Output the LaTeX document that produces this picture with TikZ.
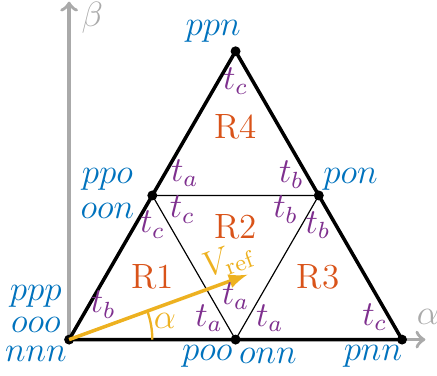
\documentclass[tikz,border=0pt]{standalone}
\usepackage{amsmath,amssymb}
\usepackage{tikz}
\usetikzlibrary{arrows,positioning,calc}
\definecolor{mblue}{RGB}{0,114,189}
\definecolor{mpurple}{RGB}{126,47,142}
\definecolor{morange}{RGB}{217,83,25}
\definecolor{myellow}{RGB}{237,177,32}
\definecolor{axgray}{RGB}{170,170,170}

\begin{document}
\begin{tikzpicture}[font=\large,
	state/.style={text=mblue, inner sep=0pt},
	tlab/.style={text=mpurple, inner sep=0pt},
	region/.style={text=morange, inner sep=0pt}]
	\useasboundingbox (-0.83,-0.43) rectangle (4.42,4.08);
	% axes
	\coordinate (xend) at (4.28,0);
	\coordinate (yend) at (0,4.06);
	\draw[very thick, axgray, -to] (0,0) -- (xend);
	\draw[very thick, axgray, -to] (0,0) -- (yend);
	\node[text=axgray] (alab) at (4.31,0.27) {$\alpha$};
	\node[text=axgray] (blab) at (0.28,3.87) {$\beta$};
	% vectors
	\coordinate (nnn) at (0,0);
	\coordinate (poo) at (2,0);
	\coordinate (pnn) at (4,0);
	\coordinate (ppo) at (1,1.732);
	\coordinate (pon) at (3,1.732);
	\coordinate (ppn) at (2,3.464);
	\draw[thin] (ppo) -- (pon) -- (poo) -- cycle;
	\draw[very thick] (nnn) -- (pnn) -- (ppn) -- cycle;
	\foreach \p in {nnn,poo,pnn,ppo,pon,ppn} {
		\fill (\p) circle (1.7pt);
	}
	% reference vector
	\coordinate (vtip) at (20:2.28);
	\draw[very thick, myellow, -latex] (nnn) -- (vtip);
	\draw[thick, myellow] (1,0) arc (0:20:1);
	\node[text=myellow, rotate=20] (vref) at (1.91,0.95) {$V_{\text{ref}}$};
	\node[text=myellow] (alpha) at (1.15,0.22) {$\alpha$};
	% vector names
	\node[state] (sppp) at (-0.40,0.52) {$ppp$};
	\node[state] (sooo) at (-0.40,0.18) {$ooo$};
	\node[state] (snnn) at (-0.40,-0.17) {$nnn$};
	\node[state] (spoo) at (1.66,-0.20) {$poo$};
	\node[state] (sonn) at (2.39,-0.20) {$onn$};
	\node[state] (spnn) at (3.65,-0.20) {$pnn$};
	\node[state] (sppo) at (0.46,1.92) {$ppo$};
	\node[state] (soon) at (0.46,1.54) {$oon$};
	\node[state] (spon) at (3.38,1.92) {$pon$};
	\node[state] (sppn) at (1.73,3.70) {$ppn$};
	% regions
	\node[region] (r1) at (1.0,0.75) {R1};
	\node[region] (r2) at (2.0,1.35) {R2};
	\node[region] (r3) at (2.99,0.75) {R3};
	\node[region] (r4) at (2.0,2.55) {R4};
	% times
	\foreach \x/\y/\t [count=\i] in {2.0/3.10/c, 1.39/2.00/a, 2.67/1.98/b,
		1.0/1.38/c, 1.36/1.56/c, 2.6/1.56/b, 2.99/1.37/b, 0.41/0.42/b,
		2.0/0.52/a, 1.68/0.26/a, 2.41/0.26/a, 3.67/0.27/c} {
		\node[tlab] (t\i) at (\x,\y) {$t_\t$};
	}
\end{tikzpicture}
\end{document}
